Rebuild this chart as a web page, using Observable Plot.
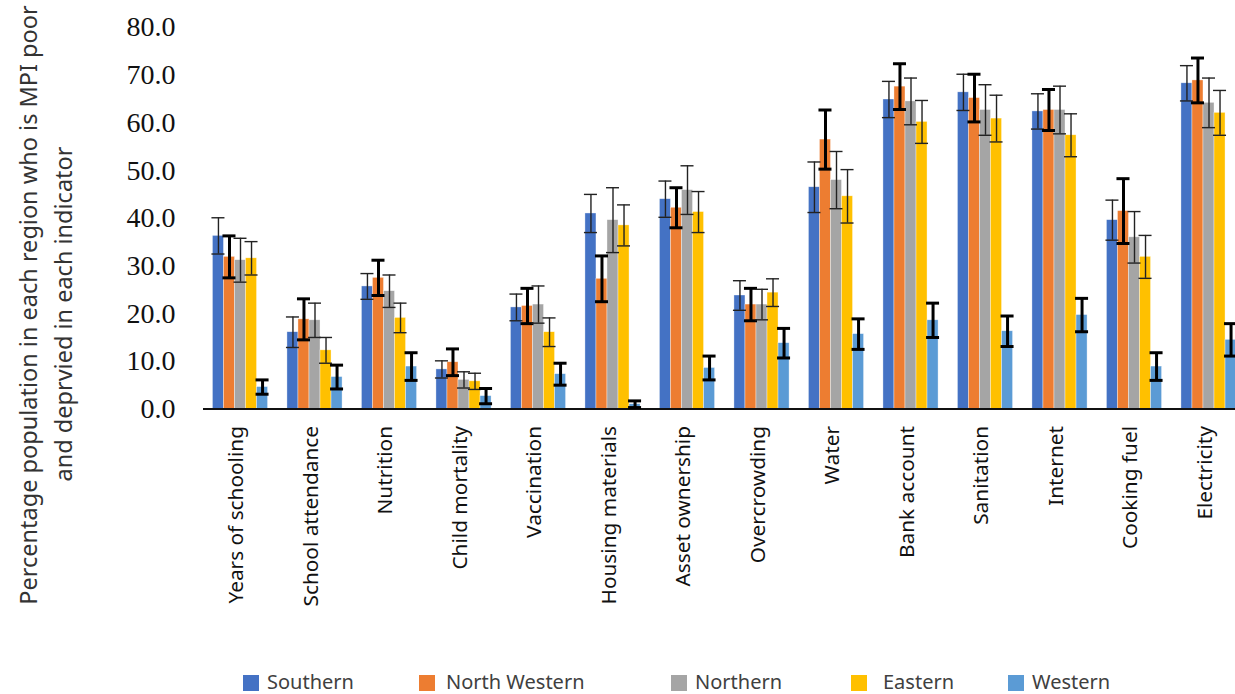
<!DOCTYPE html>
<html><head><meta charset="utf-8">
<script src="https://cdn.jsdelivr.net/npm/d3@7"></script>
<script src="https://cdn.jsdelivr.net/npm/@observablehq/plot@0.6"></script>
<style>
html,body{margin:0;padding:0;background:#fff;overflow:hidden;}
#wrap{position:relative;width:1235px;height:694px;overflow:hidden;}
#chart svg{overflow:visible;}
#legend{position:absolute;left:0;top:660px;width:1235px;height:34px;font-family:"Noto Sans",sans-serif;font-size:20px;color:#404040;}
.sw{position:absolute;top:15px;width:16px;height:16px;}
.lt{position:absolute;top:12px;line-height:20px;white-space:nowrap;}
.yt{position:absolute;white-space:nowrap;font-family:"Noto Sans",sans-serif;font-size:23.5px;line-height:28px;color:#333;transform:translate(-50%,-50%) rotate(-90deg);}
</style></head>
<body><div id="wrap"><div id="chart"></div><div id="legend"></div></div>
<script>
const indicators = ["Years of schooling","School attendance","Nutrition","Child mortality","Vaccination","Housing materials","Asset ownership","Overcrowding","Water","Bank account","Sanitation","Internet","Cooking fuel","Electricity"];
const regions = ["Southern","North Western","Northern","Eastern","Western"];
const colors = ["#4472C4","#ED7D31","#A5A5A5","#FFC000","#5B9BD5"];

const southern     = [36.3,16.1,25.7,8.3,21.3,41.0,44.0,23.8,46.5,64.9,66.4,62.4,39.6,68.3];
const southernErr  = [3.8,3.2,2.7,1.8,2.8,4.0,3.8,3.1,5.3,3.8,3.8,3.7,4.2,3.7];
const northWestern = [31.9,18.8,27.5,9.8,21.6,27.3,42.2,21.9,56.5,67.6,65.2,62.7,41.5,68.9];
const northWesternErr = [4.4,4.3,3.7,2.8,3.7,4.8,4.2,3.4,6.2,4.8,5.0,4.3,6.8,4.7];
const northern     = [31.2,18.6,24.7,6.1,21.9,39.6,45.9,21.9,48.0,64.5,62.7,62.7,36.0,64.2];
const northernErr  = [4.6,3.6,3.4,1.7,3.9,6.8,5.1,3.2,6.0,4.9,5.3,5.0,5.4,5.2];
const eastern      = [31.6,12.3,19.1,5.8,16.1,38.5,41.3,24.4,44.6,60.2,60.9,57.4,31.9,62.1];
const easternErr   = [3.5,2.7,3.1,1.7,3.0,4.3,4.3,2.9,5.6,4.5,4.9,4.5,4.5,4.7];
const western      = [4.6,6.7,8.9,2.7,7.3,1.0,8.6,13.8,15.7,18.6,16.3,19.7,8.9,14.5];
const westernErr   = [1.5,2.5,2.9,1.6,2.3,0.7,2.5,3.1,3.2,3.6,3.2,3.5,2.9,3.4];

const yTicks = [0,10,20,30,40,50,60,70,80];
const yTitle = ["Percentage population in each region who is MPI poor","and deprvied in each indicator"];

const values = [southern, northWestern, northern, eastern, western];
const errs = [southernErr, northWesternErr, northernErr, easternErr, westernErr];

const rows = [];
regions.forEach((r,i) => indicators.forEach((ind,j) => rows.push({indicator: ind, region: r, value: values[i][j], err: errs[i][j]})));

const W = 1235, H = 660;
const xRange = [202.75, 1245.75];
const pInner = 0.26, pOuter = 0.13;
const step = (xRange[1]-xRange[0]) / (indicators.length - pInner + 2*pOuter);
const bw = step*(1-pInner);
const slot = bw/regions.length;

const marks = [];
regions.forEach((r,i) => {
  const d = rows.filter(x => x.region === r);
  marks.push(Plot.barY(d, {x: "indicator", y: "value", fill: colors[i], stroke: "#fff", strokeWidth: 0.6, strokeOpacity: 0.6,
    insetLeft: slot*i, insetRight: slot*(regions.length-1-i)}));
});
marks.push(Plot.ruleY([0], {stroke: "#111", strokeWidth: 2.2}));
regions.forEach((r,i) => {
  const d = rows.filter(x => x.region === r);
  const thick = (i === 1 || i === 4);
  const st = {stroke: thick ? "#000" : "#222", strokeWidth: thick ? 3 : 1.4};
  const capInset = {insetLeft: slot*i - 1, insetRight: slot*(regions.length-1-i) - 1};
  marks.push(Plot.ruleX(d, {x: "indicator", y1: v => v.value - v.err, y2: v => v.value + v.err, dx: slot*(i - (regions.length-1)/2), ...st}));
  marks.push(Plot.tickY(d, {x: "indicator", y: v => v.value - v.err, ...capInset, ...st}));
  marks.push(Plot.tickY(d, {x: "indicator", y: v => v.value + v.err, ...capInset, ...st}));
});
marks.push(Plot.axisY({ticks: yTicks, tickFormat: d => d.toFixed(1), tickSize: 0, tickPadding: 28, fontSize: 28, fontFamily: "Liberation Serif", fill: "#111", label: null}));
marks.push(Plot.axisX({rotate: -90, textAnchor: "end", tickSize: 0, tickPadding: 17, fontSize: 20.8, fontFamily: "Noto Sans", fill: "#111", label: null, dx: -12}));

const chart = Plot.plot({
  width: W, height: H,
  marginLeft: 203, marginRight: 0, marginTop: 27, marginBottom: H - 408.5,
  style: {background: "#fff", overflow: "visible"},
  x: {type: "band", domain: indicators, range: xRange, paddingInner: pInner, paddingOuter: pOuter, round: false, axis: null},
  y: {domain: [0, 80], axis: null},
  marks
});
document.getElementById("chart").appendChild(chart);

const wrap = document.getElementById("wrap");
[[28, 305], [63, 314]].forEach(([cx, cy], k) => {
  const t = document.createElement("div"); t.className = "yt"; t.textContent = yTitle[k];
  t.style.left = cx + "px"; t.style.top = cy + "px"; wrap.appendChild(t);
});

const legendLeft = [243, 419, 671, 851, 1008];
const lg = document.getElementById("legend");
regions.forEach((r,i) => {
  const s = document.createElement("div"); s.className = "sw"; s.style.left = legendLeft[i] + "px"; s.style.background = colors[i]; lg.appendChild(s);
  const t = document.createElement("div"); t.className = "lt"; t.style.left = (legendLeft[i] + (i===1 ? 27 : (i===3 ? 32 : 24))) + "px"; t.textContent = r; lg.appendChild(t);
});
</script></body></html>
